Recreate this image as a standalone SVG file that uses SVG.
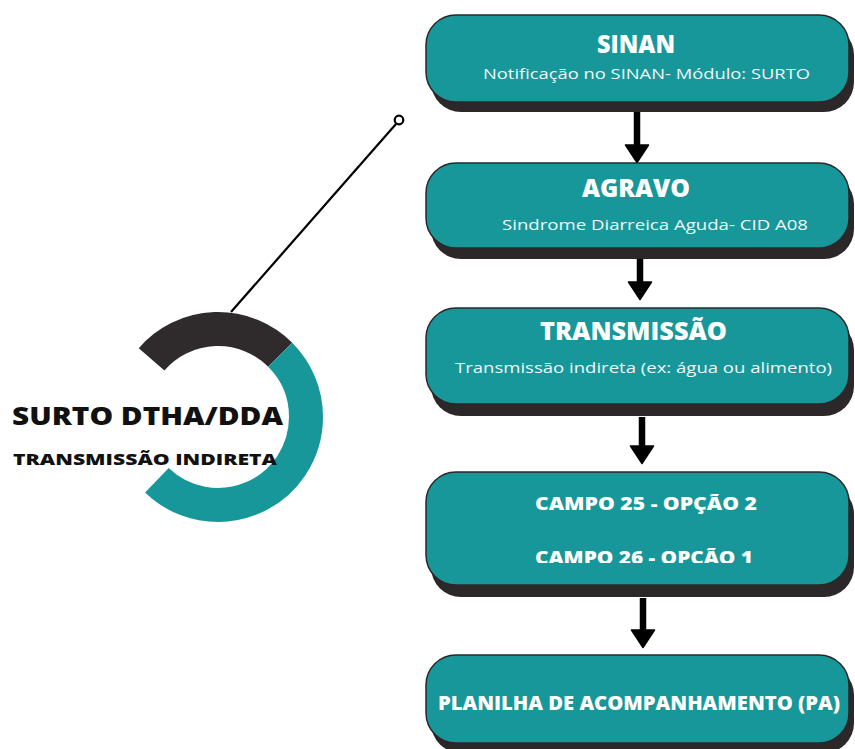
<svg xmlns="http://www.w3.org/2000/svg" width="855" height="749" viewBox="0 0 855 749">
  <style>
    .shadow { fill: #2c2728; }
    .box { fill: #17979a; stroke: #2c2728; stroke-width: 1.5; }
    .title { font-family: "Open Sans", "Liberation Sans", sans-serif; font-weight: 800; fill: #ffffff; text-anchor: middle; }
    .sub { font-family: "Open Sans", "Liberation Sans", sans-serif; font-weight: 400; fill: #eef7f7; text-anchor: middle; font-size: 14.5px; }
    .left { font-family: "Open Sans", "Liberation Sans", sans-serif; font-weight: 800; fill: #111111; }
    .conn { stroke: #000000; stroke-width: 6.5; fill: none; marker-end: url(#ah); }
  </style>
  <defs>
    <marker id="ah" markerUnits="userSpaceOnUse" markerWidth="20" markerHeight="26" viewBox="0 0 20 26" refX="1" refY="13" orient="auto">
      <path d="M1,1.5 L18.5,13 L1,24.5 Z" fill="#000000" stroke="#000000" stroke-width="1.5" stroke-linejoin="round"/>
    </marker>
    <clipPath id="clipCampo">
      <rect x="426" y="472" width="423" height="91"/>
    </clipPath>
  </defs>
  <rect width="855" height="749" fill="#ffffff"/>

  <g id="ring">
    <path d="M151.6,359.3 A88,88 0 0 1 280.2,354.8" fill="none" stroke="#2f2b2c" stroke-width="34"/>
    <path d="M280.2,354.8 A88,88 0 0 1 306,417 A88,88 0 0 1 156.9,480.3" fill="none" stroke="#17979a" stroke-width="34"/>
    <text class="left" x="12" y="425" font-size="24" textLength="271" lengthAdjust="spacingAndGlyphs">SURTO DTHA/DDA</text>
    <text class="left" x="13" y="465" font-size="16.5" textLength="264" lengthAdjust="spacingAndGlyphs">TRANSMISSÃO INDIRETA</text>
  </g>

  <g id="pointer">
    <line x1="231" y1="312" x2="396" y2="124" stroke="#000000" stroke-width="2.2"/>
    <circle cx="399" cy="120" r="4.3" fill="#ffffff" stroke="#000000" stroke-width="2.2"/>
  </g>

  <g id="connectors">
    <line class="conn" x1="637" y1="112" x2="637" y2="145"/>
    <line class="conn" x1="640" y1="256" x2="640" y2="282"/>
    <line class="conn" x1="642" y1="417" x2="642" y2="446"/>
    <line class="conn" x1="643" y1="598" x2="643" y2="630"/>
  </g>

  <g id="sinan">
    <rect class="shadow" x="431" y="25" width="423" height="87" rx="30"/>
    <rect class="box" x="426" y="15" width="423" height="87" rx="30"/>
    <text class="title" x="636" y="53" font-size="24.5" textLength="78" lengthAdjust="spacingAndGlyphs">SINAN</text>
    <text class="sub" x="646.5" y="79" textLength="327" lengthAdjust="spacingAndGlyphs">Notificação no SINAN- Módulo: SURTO</text>
  </g>

  <g id="agravo">
    <rect class="shadow" x="431" y="174" width="423" height="85" rx="30"/>
    <rect class="box" x="426" y="163" width="423" height="85" rx="30"/>
    <text class="title" x="636" y="197" font-size="25" textLength="108" lengthAdjust="spacingAndGlyphs">AGRAVO</text>
    <text class="sub" x="655" y="230" textLength="306" lengthAdjust="spacingAndGlyphs">Sindrome Diarreica Aguda- CID A08</text>
  </g>

  <g id="transmissao">
    <rect class="shadow" x="431" y="320" width="423" height="96" rx="30"/>
    <rect class="box" x="426" y="308" width="423" height="96" rx="30"/>
    <text class="title" x="633.5" y="340" font-size="24" textLength="187" lengthAdjust="spacingAndGlyphs">TRANSMISSÃO</text>
    <text class="sub" x="643.5" y="373" textLength="377" lengthAdjust="spacingAndGlyphs">Transmissão indireta (ex: água ou alimento)</text>
  </g>

  <g id="campo">
    <rect class="shadow" x="431" y="484" width="423" height="113" rx="30"/>
    <rect class="box" x="426" y="472" width="423" height="113" rx="30"/>
    <text class="title" x="646" y="510" font-size="18" textLength="222" lengthAdjust="spacingAndGlyphs">CAMPO 25 - OPÇÃO 2</text>
    <text class="title" x="644" y="564" font-size="18" textLength="218" lengthAdjust="spacingAndGlyphs" clip-path="url(#clipCampo)">CAMPO 26 - OPÇÃO 1</text>
  </g>

  <g id="planilha">
    <rect class="shadow" x="431" y="665" width="423" height="88" rx="30"/>
    <rect class="box" x="426" y="655" width="423" height="88" rx="30"/>
    <text class="title" x="639" y="710" font-size="20" textLength="402" lengthAdjust="spacingAndGlyphs">PLANILHA DE ACOMPANHAMENTO (PA)</text>
  </g>
</svg>
